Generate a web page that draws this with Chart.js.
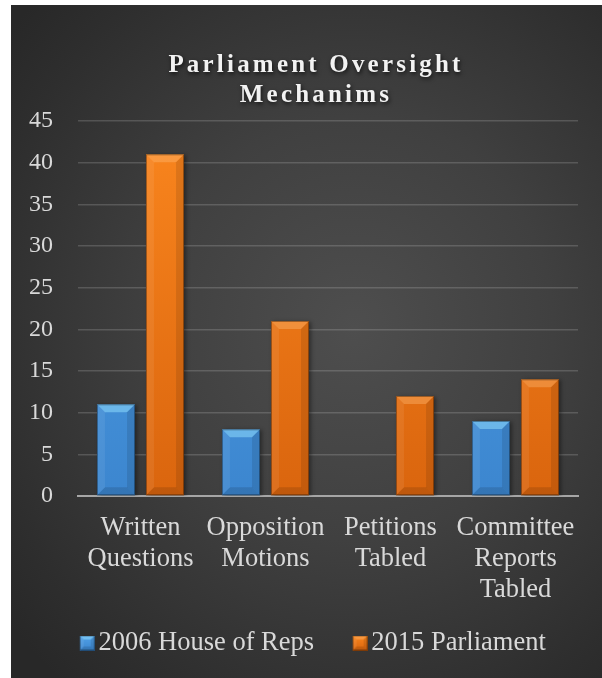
<!DOCTYPE html>
<html>
<head>
<meta charset="utf-8">
<script src="https://cdn.jsdelivr.net/npm/chart.js@4"></script>
<style>
  html, body { margin: 0; padding: 0; background: #ffffff; }
  #wrap {
    position: absolute; left: 11px; top: 5px; width: 591px; height: 673px;
    background: radial-gradient(ellipse 75% 70% at 58% 48%, #4e4e4e 0%, #404040 45%, #2e2e2e 85%, #282828 100%);
  }
  canvas { display: block; }
</style>
</head>
<body>
<div id="wrap"><canvas id="c" width="591" height="673"></canvas></div>
<script>
const titleLines = ['Parliament Oversight', 'Mechanims'];
const categories = [['Written', 'Questions'], ['Opposition', 'Motions'], ['Petitions', 'Tabled'], ['Committee', 'Reports', 'Tabled']];
const seriesNames = ['2006 House of Reps', '2015 Parliament'];
const values2006 = [11, 8, null, 9];
const values2015 = [41, 21, 12, 14];
const yTicksMax = 45;
const yTicksStep = 5;

const FONT = "'Liberation Serif', 'Times New Roman', serif";
const COLORS = {
  blue: ['#52a2e8', '#3c86cf', 'rgba(150,225,255,0.5)'],
  orange: ['#fa861e', '#da650e', 'rgba(255,190,120,0.38)']
};

function barGradient(ctx, colors) {
  const chart = ctx.chart;
  const area = chart.chartArea;
  if (!area) return colors[1];
  const g = chart.ctx.createLinearGradient(0, area.top, 0, area.bottom);
  g.addColorStop(0, colors[0]);
  g.addColorStop(1, colors[1]);
  return g;
}

function drawBevelRect(c, l, t, w, h, bv, light) {
  const r = l + w, b = t + h;
  const poly = (pts, fill) => {
    c.beginPath();
    c.moveTo(pts[0][0], pts[0][1]);
    for (let k = 1; k < pts.length; k++) c.lineTo(pts[k][0], pts[k][1]);
    c.closePath();
    c.fillStyle = fill;
    c.fill();
  };
  poly([[l, t], [r, t], [r - bv, t + bv], [l + bv, t + bv]], light);
  poly([[l, t], [l + bv, t + bv], [l + bv, b - bv], [l, b]], 'rgba(255,255,255,0.07)');
  poly([[r, t], [r - bv, t + bv], [r - bv, b - bv], [r, b]], 'rgba(0,0,0,0.10)');
  poly([[l, b], [l + bv, b - bv], [r - bv, b - bv], [r, b]], 'rgba(0,0,0,0.12)');
  c.strokeStyle = 'rgba(0,0,0,0.35)';
  c.lineWidth = 1;
  c.strokeRect(l + 0.5, t + 0.5, w - 1, h - 1);
}

function legendSwatch(colors) {
  // swatch sits at the right end of a wider transparent image, next to the text
  const cv = document.createElement('canvas');
  cv.width = 43; cv.height = 15;
  const c = cv.getContext('2d');
  const g = c.createLinearGradient(0, 0, 0, 15);
  g.addColorStop(0, colors[0]);
  g.addColorStop(1, colors[1]);
  c.fillStyle = g;
  c.fillRect(28, 0, 15, 15);
  drawBevelRect(c, 28, 0, 15, 15, 4, colors[2]);
  return cv;
}

const bevelPlugin = {
  id: 'bevel',
  beforeDatasetsDraw(chart) {
    const c = chart.ctx;
    c.save();
    c.shadowColor = 'rgba(0,0,0,0.4)';
    c.shadowBlur = 4;
    c.shadowOffsetX = 2;
    c.shadowOffsetY = 1;
  },
  afterDatasetsDraw(chart) {
    const c = chart.ctx;
    c.restore();
    c.save();
    chart.data.datasets.forEach((ds, di) => {
      const meta = chart.getDatasetMeta(di);
      meta.data.forEach((el, i) => {
        if (ds.data[i] == null) return;
        const p = el.getProps(['x', 'y', 'base', 'width'], true);
        const h = p.base - p.y;
        drawBevelRect(c, p.x - p.width / 2, p.y, p.width, h, Math.min(8, h / 2), ds.bevelLight);
      });
    });
    c.restore();
  }
};

const legendShiftPlugin = {
  id: 'legendShift',
  afterLayout(chart) {
    if (chart.legend) {
      chart.legend.left += 4;
      chart.legend.right += 4;
    }
  }
};

const titlePlugin = {
  id: 'spacedTitle',
  afterDraw(chart) {
    const c = chart.ctx;
    c.save();
    c.font = "bold 25px " + FONT;
    c.textAlign = 'center';
    c.textBaseline = 'middle';
    try { c.letterSpacing = '3.2px'; } catch (e) {}
    c.fillStyle = '#f2f2f2';
    c.shadowColor = 'rgba(0,0,0,0.7)';
    c.shadowBlur = 4;
    c.shadowOffsetX = 1;
    c.shadowOffsetY = 2;
    const cx = 305;
    titleLines.forEach((line, i) => c.fillText(line, cx, 61 + i * 30));
    c.restore();
  }
};

new Chart(document.getElementById('c'), {
  type: 'bar',
  data: {
    labels: categories,
    datasets: [
      {
        label: seriesNames[0],
        data: values2006,
        backgroundColor: (ctx) => barGradient(ctx, COLORS.blue),
        bevelLight: COLORS.blue[2],
        pointStyle: legendSwatch(COLORS.blue),
        borderWidth: 0,
        categoryPercentage: 0.784,
        barPercentage: 0.776
      },
      {
        label: seriesNames[1],
        data: values2015,
        backgroundColor: (ctx) => barGradient(ctx, COLORS.orange),
        bevelLight: COLORS.orange[2],
        pointStyle: legendSwatch(COLORS.orange),
        borderWidth: 0,
        categoryPercentage: 0.784,
        barPercentage: 0.776
      }
    ]
  },
  options: {
    responsive: false,
    animation: false,
    devicePixelRatio: 1,
    layout: { padding: { top: 116, left: 10, right: 24, bottom: 11.75 } },
    plugins: {
      title: { display: false },
      tooltip: { enabled: false },
      legend: {
        position: 'bottom',
        labels: {
          color: '#d9d9d9',
          font: { family: FONT, size: 26.5 },
          usePointStyle: true,
          pointStyleWidth: 24,
          boxHeight: 15,
          padding: 20
        }
      }
    },
    scales: {
      x: {
        afterFit: (s) => { s.height = 113.75; },
        grid: { display: false, drawTicks: false },
        border: { display: true, color: '#a6a6a6', width: 2 },
        ticks: {
          color: '#d9d9d9',
          font: { family: FONT, size: 26.5, lineHeight: 1.17 },
          padding: 17,
          maxRotation: 0,
          autoSkip: false
        }
      },
      y: {
        min: 0,
        max: yTicksMax,
        afterFit: (s) => { s.width = 57; },
        grid: { color: 'rgba(255,255,255,0.16)', lineWidth: 1.5, drawTicks: false },
        border: { display: false },
        ticks: {
          stepSize: yTicksStep,
          color: '#d9d9d9',
          font: { family: FONT, size: 24 },
          padding: 25
        }
      }
    }
  },
  plugins: [bevelPlugin, legendShiftPlugin, titlePlugin]
});
</script>
</body>
</html>
